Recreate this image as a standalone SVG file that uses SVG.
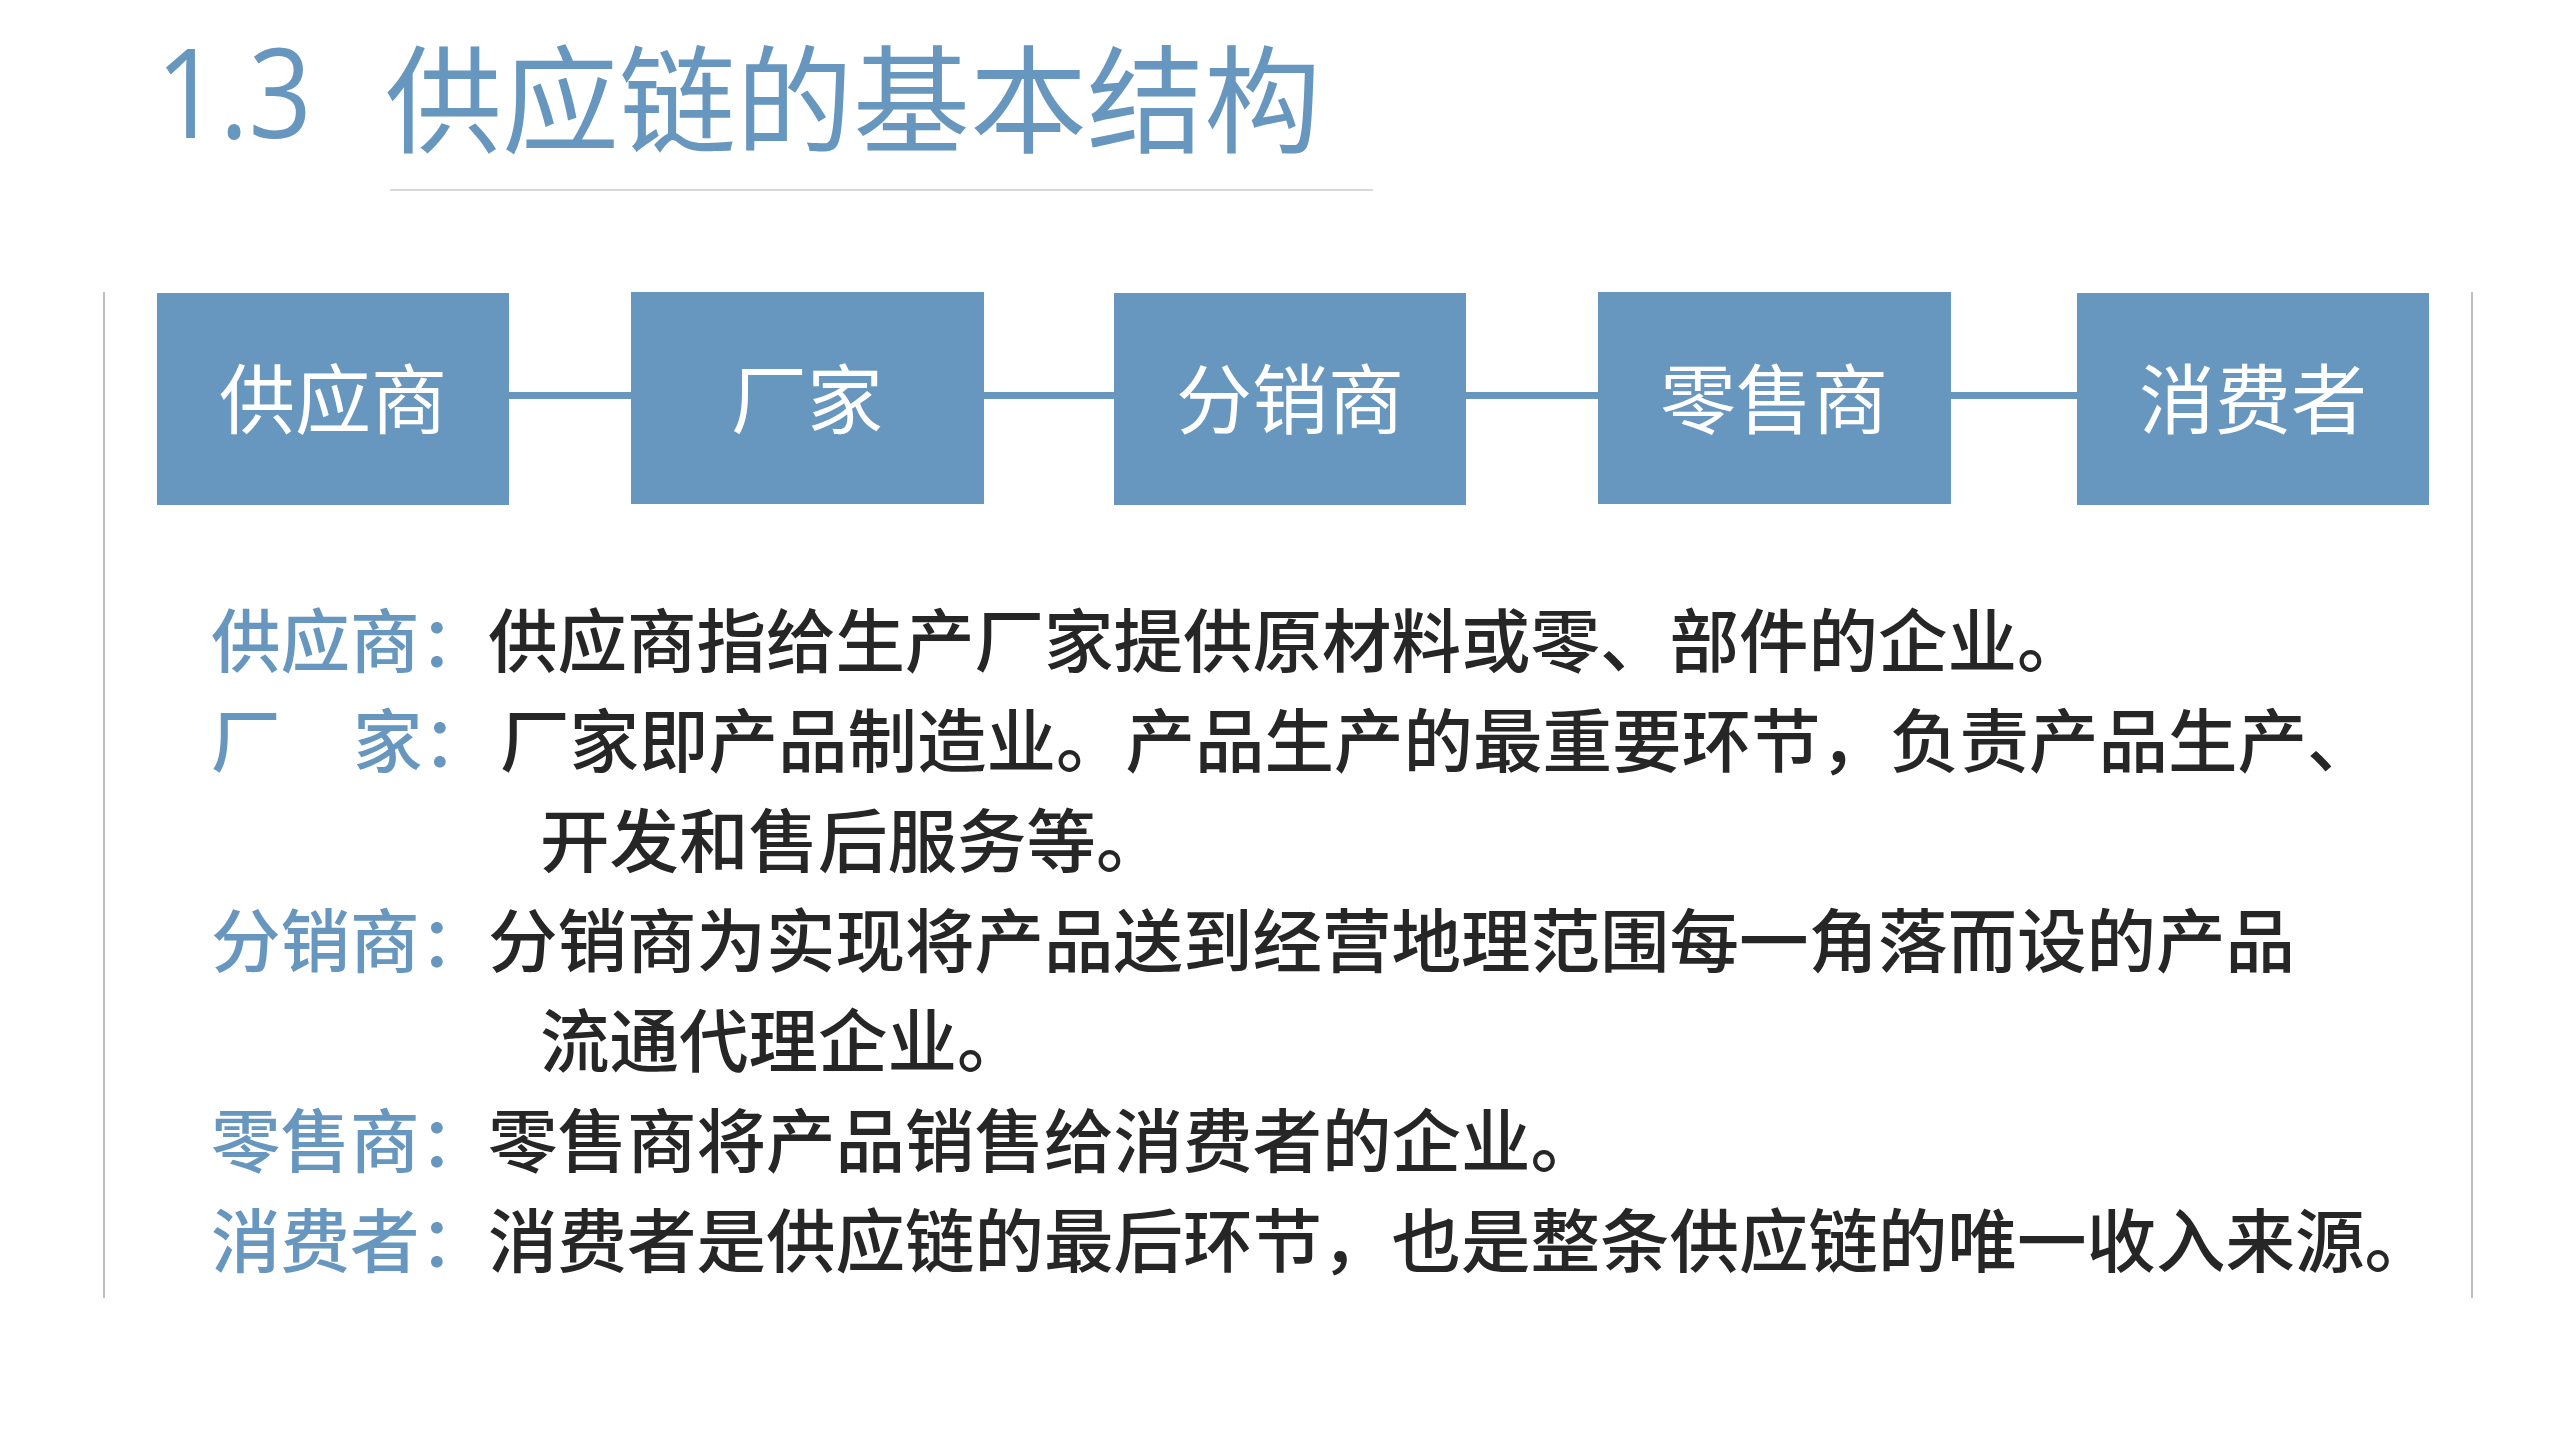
<svg xmlns="http://www.w3.org/2000/svg" width="2560" height="1440" viewBox="0 0 2560 1440">
<defs>
<style>
.box{fill:#6797BE;}
.bt{font-family:"Noto Sans CJK SC","Microsoft YaHei",sans-serif;font-size:76px;fill:#FFFFFF;text-anchor:middle;}
.conn{stroke:#6797BE;stroke-width:8;fill:none;}
.lbl{font-family:"Noto Sans CJK SC",sans-serif;font-size:69.5px;font-weight:500;fill:#6797BE;}
.txt{font-family:"Noto Sans CJK SC",sans-serif;font-size:69.5px;font-weight:500;fill:#262626;}
.frame{stroke:#BFBFBF;stroke-width:2;}
</style>
<filter id="sh" x="-5%" y="-300%" width="110%" height="700%">
<feGaussianBlur in="SourceAlpha" stdDeviation="2.5"/>
<feOffset dx="0" dy="6" result="b"/>
<feComponentTransfer><feFuncA type="linear" slope="0.55"/></feComponentTransfer>
<feMerge><feMergeNode/><feMergeNode in="SourceGraphic"/></feMerge>
</filter>
</defs>
<rect width="2560" height="1440" fill="#FFFFFF"/>
<g id="title">
<text x="156" y="138" font-family="'Open Sans',sans-serif" font-size="124" fill="#6797BE" textLength="156" lengthAdjust="spacingAndGlyphs">1.3</text>
<text x="385" y="144" font-family="'Noto Sans CJK SC',sans-serif" font-size="117" fill="#6797BE">供应链的基本结构</text>
<line x1="390" y1="190" x2="1373" y2="190" stroke="#D9D9D9" stroke-width="2"/>
</g>
<g id="frame">
<line class="frame" x1="104" y1="292" x2="104" y2="1298"/>
<line class="frame" x1="2472" y1="292" x2="2472" y2="1298"/>
</g>
<g id="connectors" filter="url(#sh)">
<line class="conn" x1="509" y1="396" x2="631" y2="395"/>
<line class="conn" x1="984" y1="396" x2="1114" y2="395"/>
<line class="conn" x1="1466" y1="396" x2="1598" y2="395"/>
<line class="conn" x1="1951" y1="396" x2="2077" y2="395"/>
</g>
<g id="node-supplier"><rect class="box" x="157" y="293" width="352" height="212"/><text class="bt" x="333" y="428">供应商</text></g>
<g id="node-manufacturer"><rect class="box" x="631" y="292" width="353" height="212"/><text class="bt" x="807" y="428">厂家</text></g>
<g id="node-distributor"><rect class="box" x="1114" y="293" width="352" height="212"/><text class="bt" x="1290" y="428">分销商</text></g>
<g id="node-retailer"><rect class="box" x="1598" y="292" width="353" height="212"/><text class="bt" x="1774" y="428">零售商</text></g>
<g id="node-consumer"><rect class="box" x="2077" y="293" width="352" height="212"/><text class="bt" x="2253" y="428">消费者</text></g>
<g id="descriptions">
<text class="lbl" x="211" y="667">供应商：</text>
<text class="txt" x="488" y="667">供应商指给生产厂家提供原材料或零、部件的企业。</text>
<text class="lbl" x="211" y="767">厂</text>
<text class="lbl" x="353" y="767">家：</text>
<text class="txt" x="500" y="767">厂家即产品制造业。产品生产的最重要环节，负责产品生产、</text>
<text class="txt" x="540" y="867">开发和售后服务等。</text>
<text class="lbl" x="211" y="967">分销商：</text>
<text class="txt" x="488" y="967">分销商为实现将产品送到经营地理范围每一角落而设的产品</text>
<text class="txt" x="540" y="1067">流通代理企业。</text>
<text class="lbl" x="211" y="1167">零售商：</text>
<text class="txt" x="488" y="1167">零售商将产品销售给消费者的企业。</text>
<text class="lbl" x="211" y="1267">消费者：</text>
<text class="txt" x="488" y="1267">消费者是供应链的最后环节，也是整条供应链的唯一收入来源。</text>
</g>
</svg>
